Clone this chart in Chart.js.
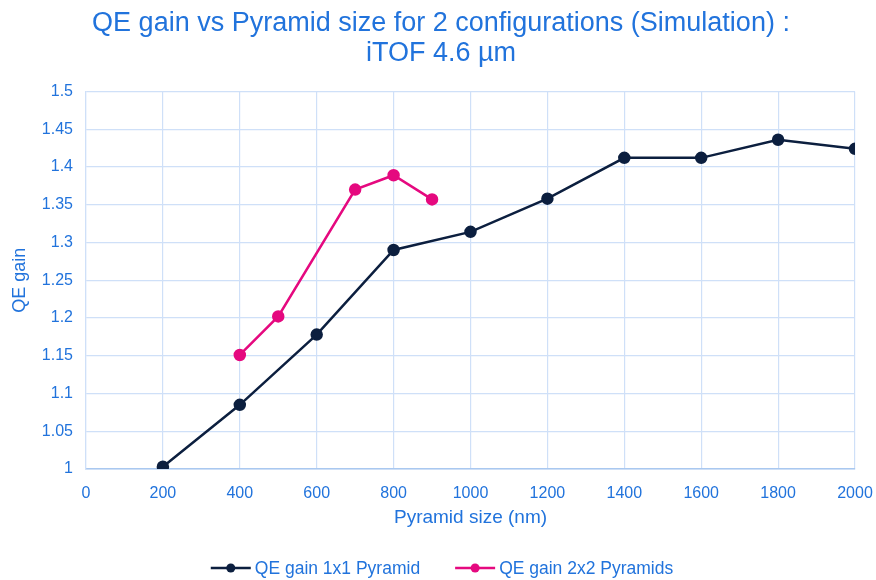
<!DOCTYPE html>
<html>
<head>
<meta charset="utf-8">
<script src="https://cdn.jsdelivr.net/npm/chart.js@4/dist/chart.umd.min.js"></script>
<style>
  html, body { margin: 0; padding: 0; background: #ffffff; }
  #wrap { width: 876px; height: 580px; }
</style>
</head>
<body>
<div id="wrap"><canvas id="chart" width="876" height="580"></canvas></div>
<script>
// Pyramid sizes (nm) and simulated QE gain per configuration
const sizes1x1 = [200, 400, 600, 800, 1000, 1200, 1400, 1600, 1800, 2000];
const gain1x1 = [1.003, 1.085, 1.178, 1.290, 1.314, 1.358, 1.412, 1.412, 1.436, 1.424];
const sizes2x2 = [400, 500, 700, 800, 900];
const gain2x2 = [1.151, 1.202, 1.370, 1.389, 1.357];

const seriesNames = ["QE gain 1x1 Pyramid", "QE gain 2x2 Pyramids"];
const seriesColors = ["#0c1f3f", "#e5097f"];
const textBlue = "#2173dc";
const gridBlue = "#cfe0f8";
const fontFamily = "Liberation Sans";

function toPoints(xs, ys) {
  return xs.map((x, i) => ({ x: x, y: ys[i] }));
}

// Bottom legend: line-with-dot marker followed by the series label
const lineLegend = {
  id: "lineLegend",
  afterDraw(chart) {
    const g = chart.ctx;
    const y = 568;
    const markerW = 40;
    const gap = 4;
    const itemGap = 35;
    g.save();
    g.font = "17.5px " + fontFamily;
    g.textBaseline = "middle";
    const items = chart.data.datasets.map((ds) => ({
      text: ds.label,
      color: ds.borderColor,
      w: markerW + gap + g.measureText(ds.label).width,
    }));
    const total = items.reduce((s, it) => s + it.w, 0) + itemGap * (items.length - 1);
    let x = 442 - total / 2;
    items.forEach((it) => {
      g.strokeStyle = it.color;
      g.lineWidth = 2.5;
      g.beginPath();
      g.moveTo(x, y);
      g.lineTo(x + markerW, y);
      g.stroke();
      g.fillStyle = it.color;
      g.beginPath();
      g.arc(x + markerW / 2, y, 4.5, 0, Math.PI * 2);
      g.fill();
      g.fillStyle = textBlue;
      g.fillText(it.text, x + markerW + gap, y + 1);
      x += it.w + itemGap;
    });
    g.restore();
  },
};

const ctx = document.getElementById("chart").getContext("2d");
const chartSetup = {
  type: "line",
  data: {
    datasets: [
      {
        label: seriesNames[0],
        data: toPoints(sizes1x1, gain1x1),
        borderColor: seriesColors[0],
        backgroundColor: seriesColors[0],
        borderWidth: 2.5,
        pointRadius: 5,
        pointHoverRadius: 5,
      },
      {
        label: seriesNames[1],
        data: toPoints(sizes2x2, gain2x2),
        borderColor: seriesColors[1],
        backgroundColor: seriesColors[1],
        borderWidth: 2.5,
        pointRadius: 5,
        pointHoverRadius: 5,
      },
    ],
  },
  options: {
    responsive: false,
    animation: false,
    layout: { padding: { left: 6, right: 0, top: 0, bottom: 51 } },
    scales: {
      x: {
        type: "linear",
        min: 0,
        max: 2000,
        ticks: {
          stepSize: 200,
          color: textBlue,
          font: { family: fontFamily, size: 16 },
          padding: 15,
          callback: (v) => String(v),
        },
        grid: { color: gridBlue, lineWidth: 1.2, drawTicks: false },
        border: { color: "#a9c8f0", width: 1.5 },
        title: {
          display: true,
          text: "Pyramid size (nm)",
          color: textBlue,
          font: { family: fontFamily, size: 19 },
          padding: { top: 4, bottom: 0 },
        },
        afterFit: (axis) => {
          axis.height = 60;
          axis.paddingLeft = 0;
          axis.paddingRight = 21;
        },
      },
      y: {
        min: 1,
        max: 1.5,
        ticks: {
          stepSize: 0.05,
          color: textBlue,
          font: { family: fontFamily, size: 16 },
          padding: 13,
          callback: (v) => String(+v.toFixed(2)),
        },
        grid: { color: gridBlue, lineWidth: 1.2, drawTicks: false },
        border: { color: gridBlue, width: 1.2 },
        title: {
          display: true,
          text: "QE gain",
          color: textBlue,
          font: { family: fontFamily, size: 18 },
          padding: { top: 3, bottom: 4 },
        },
        afterFit: (axis) => {
          axis.width = 80;
          axis.paddingTop = 0;
          axis.paddingBottom = 0;
        },
      },
    },
    plugins: {
      title: {
        display: true,
        text: ["QE gain vs Pyramid size for 2 configurations (Simulation) :", "iTOF 4.6 µm"],
        color: textBlue,
        font: { family: fontFamily, size: 27, weight: "normal", lineHeight: 1.1 },
        padding: { top: 9, bottom: 23 },
      },
      legend: { display: false },
      tooltip: { enabled: false },
    },
  },
  plugins: [lineLegend],
};
const myChart = new Chart(ctx, chartSetup);
</script>
</body>
</html>
